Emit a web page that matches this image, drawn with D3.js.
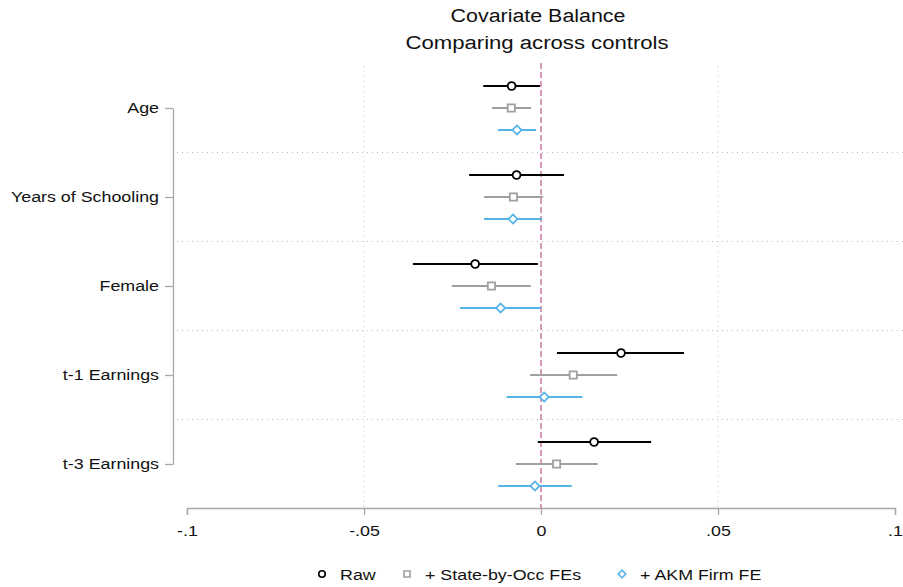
<!DOCTYPE html>
<html>
<head>
<meta charset="utf-8">
<script src="https://cdn.jsdelivr.net/npm/d3@7/dist/d3.min.js"></script>
<style>
  body { margin: 0; background: #fff; }
  svg { font-family: "Liberation Sans", Arial, sans-serif; }
</style>
</head>
<body>
<svg id="chart" width="903" height="587"></svg>
<script>
// Covariates (rows) and the three specifications (series)
const covariates = ["Age", "Years of Schooling", "Female", "t-1 Earnings", "t-3 Earnings"];
const seriesNames = ["Raw", "+ State-by-Occ FEs", "+ AKM Firm FE"];

// Point estimates, one per covariate
const rawEst   = [-0.0083, -0.0069, -0.0186, 0.0226, 0.0150];
const stateEst = [-0.0084, -0.0078, -0.0140, 0.0091, 0.0044];
const akmEst   = [-0.0068, -0.0079, -0.0114, 0.0009, -0.0017];

// Confidence interval bounds
const rawLo   = [-0.0163, -0.0203, -0.0362, 0.0045, -0.0009];
const rawHi   = [-0.0003, 0.0065, -0.0009, 0.0404, 0.0311];
const stateLo = [-0.0138, -0.0161, -0.0252, -0.0031, -0.0071];
const stateHi = [-0.0028, 0.0006, -0.0029, 0.0215, 0.0160];
const akmLo   = [-0.0122, -0.0161, -0.0229, -0.0097, -0.0121];
const akmHi   = [-0.0014, 0.0003, 0.0000, 0.0117, 0.0087];

const xTicks = [-0.1, -0.05, 0, 0.05, 0.1];
const xTickLabels = ["-.1", "-.05", "0", ".05", ".1"];

const colors = ["#000000", "#a0a0a0", "#56b4e9"];
// circle, square, diamond (square turned 45 degrees)
const symbols = [d3.symbolCircle, d3.symbolSquare, d3.symbolSquare];
const symbolRot = [0, 0, 45];
const symbolSize = [48, 52, 42];

const series = [
  { name: seriesNames[0], est: rawEst, lo: rawLo, hi: rawHi },
  { name: seriesNames[1], est: stateEst, lo: stateLo, hi: stateHi },
  { name: seriesNames[2], est: akmEst, lo: akmLo, hi: akmHi }
];

// Text in this graph is set slightly wide
const stretch = 1.19;

const svg = d3.select("#chart");

const x = d3.scaleLinear().domain([-0.1, 0.1]).range([187, 895]);
// Row centres; each row holds three stacked estimates
const y = d3.scalePoint().domain(covariates).range([108, 464]);
const rowStep = y.step();
const offsets = [-22, 0, 22];

const plotTop = 63, plotBottom = 508;

function wideText(g, tx, ty, str, size, anchor, sx) {
  return g.append("text")
    .attr("transform", `translate(${tx},${ty}) scale(${sx || stretch},1)`)
    .attr("text-anchor", anchor)
    .attr("fill", "#111")
    .style("font-size", size + "px")
    .text(str);
}

// Title
const title = svg.append("g");
wideText(title, 538, 21.5, "Covariate Balance", 18, "middle");
wideText(title, 537, 48.5, "Comparing across controls", 18, "middle", 1.23);

// Vertical dotted gridlines
svg.append("g").selectAll("line")
  .data([-0.05, 0.05])
  .join("line")
  .attr("x1", d => x(d)).attr("x2", d => x(d))
  .attr("y1", plotTop + 3).attr("y2", plotBottom)
  .attr("stroke", "#c8c8c8").attr("stroke-width", 1)
  .attr("stroke-dasharray", "1,4");

// Horizontal dotted separators between covariates
svg.append("g").selectAll("line")
  .data(covariates.slice(0, -1))
  .join("line")
  .attr("x1", 177).attr("x2", 903)
  .attr("y1", d => y(d) + rowStep / 2).attr("y2", d => y(d) + rowStep / 2)
  .attr("stroke", "#b8b8b8").attr("stroke-width", 1)
  .attr("stroke-dasharray", "1,4");

// Zero reference line
svg.append("line")
  .attr("x1", x(0)).attr("x2", x(0))
  .attr("y1", plotTop).attr("y2", plotBottom)
  .attr("stroke", "#cf78a6").attr("stroke-width", 1.5)
  .attr("stroke-dasharray", "6,3");

// X axis
const xAxis = d3.axisBottom(x)
  .tickValues(xTicks)
  .tickFormat((d, i) => xTickLabels[i])
  .tickSize(7)
  .tickPadding(10);
const gx = svg.append("g").attr("transform", `translate(0,${plotBottom})`).call(xAxis);
gx.select(".domain").attr("stroke", "#a8a8a8").attr("stroke-width", 1.3);
gx.selectAll(".tick line").attr("stroke", "#a8a8a8").attr("stroke-width", 1.3);
gx.selectAll(".tick text")
  .attr("transform", `scale(${stretch},1)`)
  .attr("fill", "#111").style("font-size", "15px")
  .style("font-family", "Liberation Sans, Arial, sans-serif");

// Y axis
const yAxis = d3.axisLeft(y).tickSize(8).tickPadding(14 / stretch - 8).tickSizeOuter(0);
const gy = svg.append("g").attr("transform", "translate(173,0)").call(yAxis);
gy.select(".domain").attr("stroke", "#a8a8a8").attr("stroke-width", 1.3);
gy.selectAll(".tick line").attr("stroke", "#a8a8a8").attr("stroke-width", 1.3);
gy.selectAll(".tick text")
  .attr("transform", `scale(${stretch},1)`)
  .attr("fill", "#111").style("font-size", "15px")
  .style("font-family", "Liberation Sans, Arial, sans-serif");

// Estimates with confidence intervals
series.forEach((s, si) => {
  const g = svg.append("g");
  const rows = covariates.map((c, i) => ({ c, est: s.est[i], lo: s.lo[i], hi: s.hi[i] }));
  g.selectAll("line")
    .data(rows)
    .join("line")
    .attr("x1", d => x(d.lo)).attr("x2", d => x(d.hi))
    .attr("y1", d => y(d.c) + offsets[si]).attr("y2", d => y(d.c) + offsets[si])
    .attr("stroke", colors[si]).attr("stroke-width", 2);
  const sym = d3.symbol().type(symbols[si]).size(symbolSize[si]);
  g.selectAll("path")
    .data(rows)
    .join("path")
    .attr("transform", d => `translate(${x(d.est)},${y(d.c) + offsets[si]}) rotate(${symbolRot[si]})`)
    .attr("d", sym)
    .attr("fill", "#fff")
    .attr("stroke", colors[si]).attr("stroke-width", 1.8);
});

// Legend
const legendPos = [322, 407, 622];
const legend = svg.append("g");
series.forEach((s, si) => {
  legend.append("path")
    .attr("transform", `translate(${legendPos[si]},574) rotate(${symbolRot[si]})`)
    .attr("d", d3.symbol().type(symbols[si]).size(symbolSize[si] * 0.7)())
    .attr("fill", "#fff")
    .attr("stroke", colors[si]).attr("stroke-width", 1.6);
  wideText(legend, legendPos[si] + 18, 579.5, s.name, 15, "start");
});
</script>
</body>
</html>
